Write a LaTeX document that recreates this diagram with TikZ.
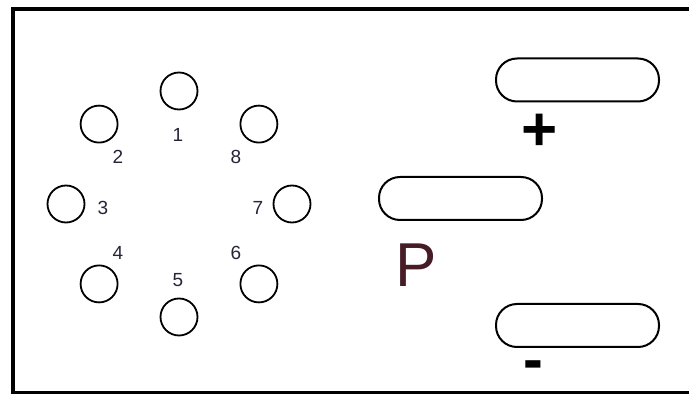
\documentclass[tikz,border=0pt]{standalone}
\usepackage{fontspec}
\setmainfont{Liberation Sans}
\definecolor{ink}{RGB}{40,35,55}
\definecolor{pink}{RGB}{70,28,38}
\begin{document}
\begin{tikzpicture}[x=1pt, y=1pt,
    pin/.style={draw, circle, line width=1.8pt, minimum size=37pt, inner sep=0pt},
    pad/.style={draw, rectangle, rounded corners=21pt, line width=2pt, minimum width=163pt, minimum height=43pt},
    num/.style={font=\fontsize{19}{19}\selectfont, text=ink}]
    \useasboundingbox (0,0) rectangle (689,394);
    \clip (0,0) rectangle (689,394);
    \draw [line width=4.5pt] (13,1) rectangle (720,385);
    % pins of the socket
    \begin{scope}[shift={(179,190)}]
        \foreach \n in {1,...,8}
        {
            \node [pin] (pin\n) at ({90+45*(\n-1)}:113) {};
        }
    \end{scope}
    \foreach \n/\lx/\ly in {1/178/259, 2/118/237, 3/103/186, 4/118/141,
                            5/178/114, 6/236/141, 7/258/186, 8/236/237}
    {
        \node [num] (num\n) at (\lx,\ly) {\n};
    }
    % the three pads
    \node [pad] (padplus) at (577.5,314) {};
    \node [pad] (padp) at (460.5,195.5) {};
    \node [pad] (padminus) at (577.5,68.5) {};
    \node (plus) at (540,262) {\fontsize{62}{62}\selectfont\bfseries +};
    \node (plabel) at (416,129) {\fontsize{62}{62}\selectfont\color{pink}P};
    \node (minus) at (533,23) {\fontsize{54}{54}\selectfont\bfseries\scalebox{1.1}[1.15]{-}};
\end{tikzpicture}
\end{document}
